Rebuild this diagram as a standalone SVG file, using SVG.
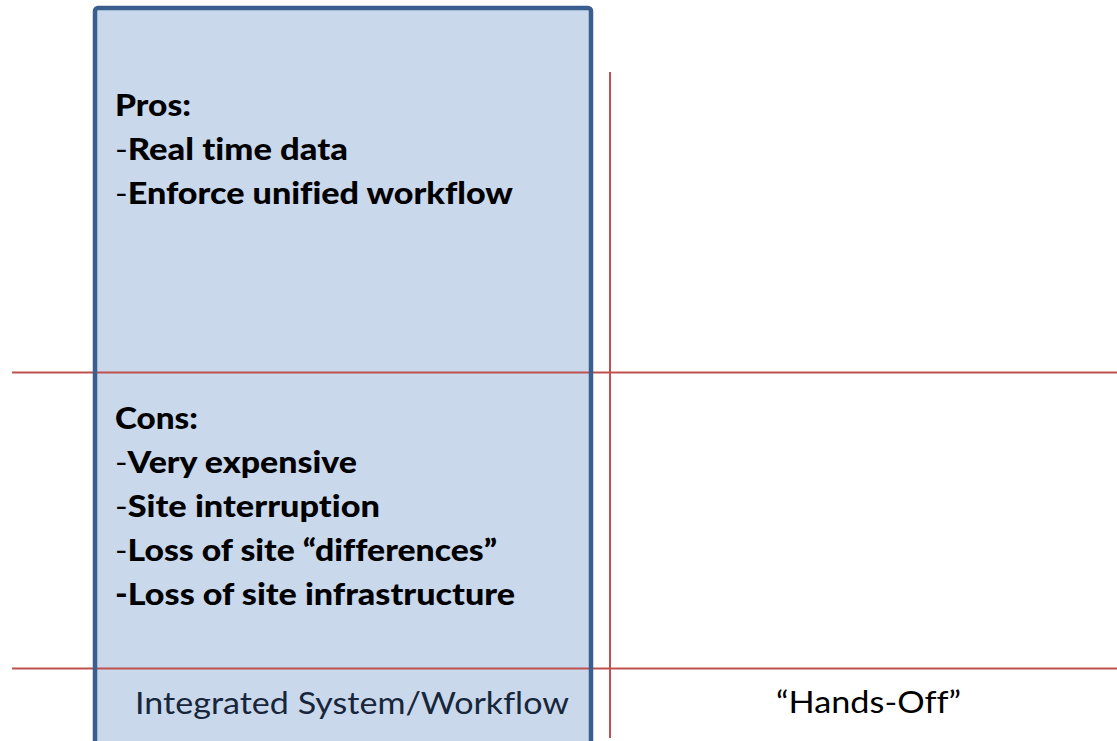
<svg xmlns="http://www.w3.org/2000/svg" width="1117" height="741" viewBox="0 0 1117 741">
  <style>
    .grid { stroke: #C0504D; stroke-width: 2; fill: none; }
    .item { font-family: Lato, "Open Sans", "Liberation Sans", sans-serif; font-size: 31px; fill: #000; font-variant-ligatures: none; }
    .b { font-weight: 900; }
    .n { font-weight: normal; }
    .label { font-family: Lato, "Open Sans", "Liberation Sans", sans-serif; font-size: 31px; font-variant-ligatures: none; }
  </style>
  <rect x="0" y="0" width="1117" height="741" fill="#FFFFFF"/>
  <g id="column-box">
    <rect x="95" y="8" width="496" height="760" rx="3" fill="#C9D8EB"/>
  </g>
  <g id="connectors">
    <line class="grid" x1="12" y1="372.5" x2="1117" y2="372.5"/>
    <line class="grid" x1="12" y1="668.5" x2="1117" y2="668.5"/>
    <line class="grid" x1="610" y1="72" x2="610" y2="738"/>
  </g>
  <g id="column-border">
    <rect x="95" y="8" width="496" height="760" rx="3" fill="none" stroke="#3A5F8F" stroke-width="4.5"/>
  </g>
  <g id="pros">
    <text class="item b" x="115" y="116" textLength="76" lengthAdjust="spacingAndGlyphs">Pros:</text>
    <text class="item" x="115" y="160" textLength="233" lengthAdjust="spacingAndGlyphs"><tspan class="n">-</tspan><tspan class="b">Real time data</tspan></text>
    <text class="item" x="115" y="204" textLength="398" lengthAdjust="spacingAndGlyphs"><tspan class="n">-</tspan><tspan class="b">Enforce unified workflow</tspan></text>
  </g>
  <g id="cons">
    <text class="item b" x="115" y="429" textLength="83" lengthAdjust="spacingAndGlyphs">Cons:</text>
    <text class="item" x="115" y="473" textLength="242" lengthAdjust="spacingAndGlyphs"><tspan class="n">-</tspan><tspan class="b">Very expensive</tspan></text>
    <text class="item" x="115" y="517" textLength="265" lengthAdjust="spacingAndGlyphs"><tspan class="n">-</tspan><tspan class="b">Site interruption</tspan></text>
    <text class="item" x="115" y="561" textLength="382" lengthAdjust="spacingAndGlyphs"><tspan class="n">-</tspan><tspan class="b">Loss of site “differences”</tspan></text>
    <text class="item b" x="115" y="605" textLength="400" lengthAdjust="spacingAndGlyphs">-Loss of site infrastructure</text>
  </g>
  <g id="label-integrated">
    <text class="label" x="135" y="714" fill="#17263A" textLength="434" lengthAdjust="spacingAndGlyphs">Integrated System/Workflow</text>
  </g>
  <g id="label-handsoff">
    <text class="label" x="776" y="713" fill="#000000" textLength="185" lengthAdjust="spacingAndGlyphs">“Hands-Off”</text>
  </g>
</svg>
